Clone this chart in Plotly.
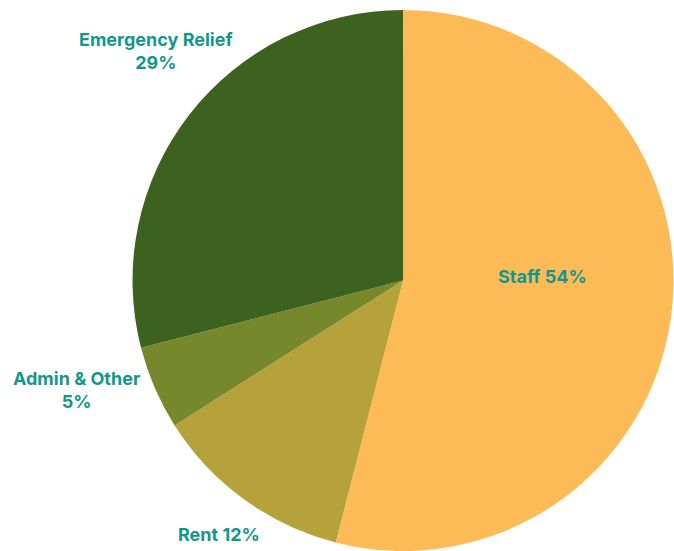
import plotly.graph_objects as go

labels = ["Staff", "Rent", "Admin & Other", "Emergency Relief"]
values = [54, 12, 5, 29]
colors = ["#FDBB58", "#B5A23A", "#77872B", "#3D611E"]

TEXT_COLOR = "#14968C"
FONT = "Inter"
FSIZE = 18

fig = go.Figure(go.Pie(
    labels=labels,
    values=values,
    marker=dict(colors=colors, line=dict(width=0)),
    sort=False,
    direction="clockwise",
    rotation=0,
    textinfo="none",
    showlegend=False,
    hoverinfo="label+percent",
    domain=dict(x=[0.1966, 0.9993], y=[0, 1]),
))

# (text, x, y) in paper coordinates; text built from the data
label_items = [
    (f"{labels[0]} {values[0]}%", 0.8056, 0.5083),
    (f"{labels[1]} {values[1]}%", 0.3249, 0.0296),
    (f"{labels[2]}<br>{values[2]}%", 0.1128, 0.2981),
    (f"{labels[3]}<br>{values[3]}%", 0.2315, 0.9238),
]
for txt, x, y in label_items:
    fig.add_annotation(text=txt, x=x, y=y, xref="paper", yref="paper",
                       showarrow=False, xanchor="center", yanchor="middle",
                       align="center",
                       font=dict(family=FONT, size=FSIZE, color=TEXT_COLOR, weight="bold"))

fig.update_layout(
    width=674, height=551,
    margin=dict(l=0, r=0, t=10, b=0),
    paper_bgcolor="white",
    plot_bgcolor="white",
)
fig.write_html("out.html")
